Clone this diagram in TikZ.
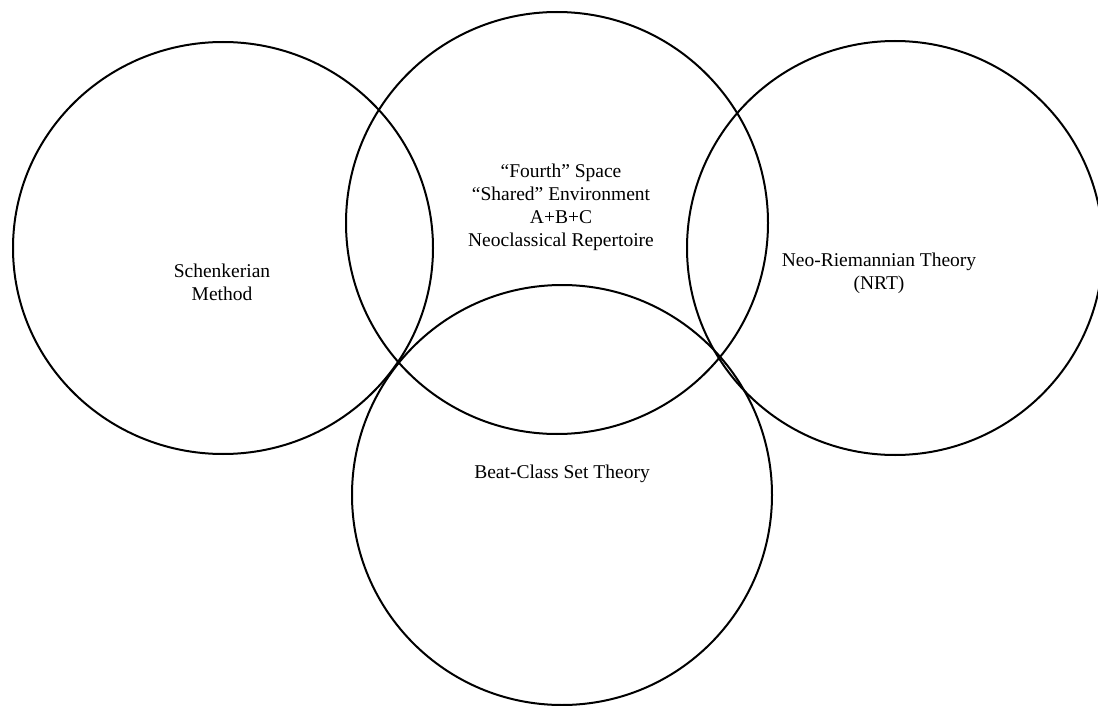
\documentclass[tikz,border=0pt]{standalone}
\usepackage{fontspec}
\setmainfont{Liberation Serif}
\tikzset{
  venn/.style={draw=black, line width=2pt},
  lbl/.style={align=center, font=\fontsize{19.5}{23}\selectfont, inner sep=0pt}
}
\begin{document}
\begin{tikzpicture}[x=1pt,y=-1pt]
\path[use as bounding box, fill=white] (0,0) rectangle (1098,706);
\begin{scope}
\clip (0,0) rectangle (1098,706);
\draw[venn] (223,248) ellipse [x radius=210, y radius=206];
\draw[venn] (557,223) ellipse [x radius=211, y radius=211];
\draw[venn] (895,248) ellipse [x radius=208, y radius=207];
\draw[venn] (562,495) ellipse [x radius=210, y radius=210];
\end{scope}
\node[lbl] (schenker) at (222,282) {Schenkerian\\Method};
\node[lbl] (fourth) at (561,207) {“Fourth” Space\\“Shared” Environment\\A+B+C\\Neoclassical Repertoire};
\node[lbl] (nrt) at (879,273) {Neo-Riemannian Theory\\(NRT)};
\node[lbl] (beat) at (562,474) {Beat-Class Set Theory};
\end{tikzpicture}
\end{document}
